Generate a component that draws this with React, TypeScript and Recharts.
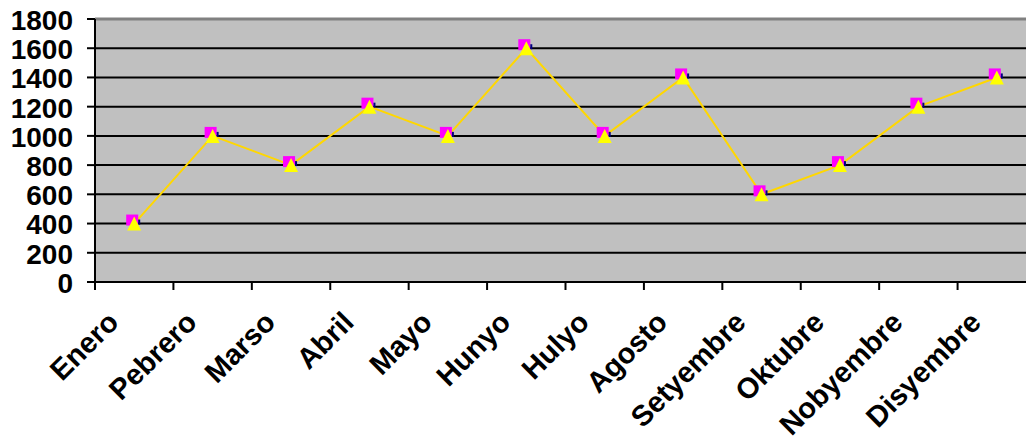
import { LineChart, Line, XAxis, YAxis, CartesianGrid, ReferenceLine } from 'recharts'

const months = ['Enero', 'Pebrero', 'Marso', 'Abril', 'Mayo', 'Hunyo', 'Hulyo', 'Agosto', 'Setyembre', 'Oktubre', 'Nobyembre', 'Disyembre']
const values = [400, 1000, 800, 1200, 1000, 1600, 1000, 1400, 600, 800, 1200, 1400]
const yTicks = [0, 200, 400, 600, 800, 1000, 1200, 1400, 1600, 1800]

const data = months.map((m, i) => ({ month: m, value: values[i] }))

const font = 'Arial, "Liberation Sans", sans-serif'
const W = 1036
const H = 437
const Y_W = 95
const HALF_BAND = (W - Y_W) / months.length / 2

function MonthTick(props: any) {
  const { x, y, payload } = props
  const tx = x - 14
  const ty = y + 42
  return (
    <g>
      <line x1={x - HALF_BAND} x2={x - HALF_BAND} y1={y} y2={y + 8} stroke="#000" strokeWidth={2} />
      <text
        x={tx}
        y={ty}
        textAnchor="end"
        transform={`rotate(-45, ${tx}, ${ty})`}
        fontFamily={font}
        fontWeight="bold"
        fontSize={29}
        fill="#000"
      >
        {payload.value}
      </text>
    </g>
  )
}

function Marker(props: any) {
  const { cx, cy } = props
  if (cx == null || cy == null) return null
  return (
    <g>
      <rect x={cx - 8} y={cy - 9} width={12} height={11} fill="#ff00ff" />
      <rect x={cx + 4} y={cy - 4} width={2} height={5} fill="#000080" />
      <polygon points={`${cx},${cy - 7} ${cx + 7},${cy + 7} ${cx - 7},${cy + 7}`} fill="#ffff00" />
    </g>
  )
}

export default function App() {
  return (
    <div style={{ position: 'absolute', left: 0, top: 0, width: 1026, height: H, overflow: 'hidden', background: '#fff' }}>
      <LineChart width={W} height={H} data={data} margin={{ top: 19, right: 0, bottom: 0, left: 0 }}>
        <CartesianGrid vertical={false} stroke="#000" strokeWidth={2} strokeOpacity={1} fill="#c0c0c0" fillOpacity={1} />
        <ReferenceLine y={1800} stroke="#808080" strokeWidth={3} />
        <XAxis
          dataKey="month"
          height={H - 282}
          interval={0}
          padding={{ left: HALF_BAND, right: HALF_BAND }}
          tickLine={false}
          tickSize={0}
          tickMargin={0}
          axisLine={{ stroke: '#000', strokeWidth: 2 }}
          tick={<MonthTick />}
        />
        <YAxis
          width={Y_W}
          domain={[0, 1800]}
          ticks={yTicks}
          interval={0}
          tickSize={8}
          tickLine={{ stroke: '#000', strokeWidth: 2 }}
          axisLine={{ stroke: '#000', strokeWidth: 2 }}
          tick={{ fill: '#000', fontFamily: font, fontWeight: 'bold', fontSize: 28, dx: -12, dy: 1 }}
        />
        <Line
          type="linear"
          dataKey="value"
          stroke="#ffd700"
          strokeWidth={2}
          dot={<Marker />}
          activeDot={false}
          isAnimationActive={false}
        />
      </LineChart>
    </div>
  )
}
